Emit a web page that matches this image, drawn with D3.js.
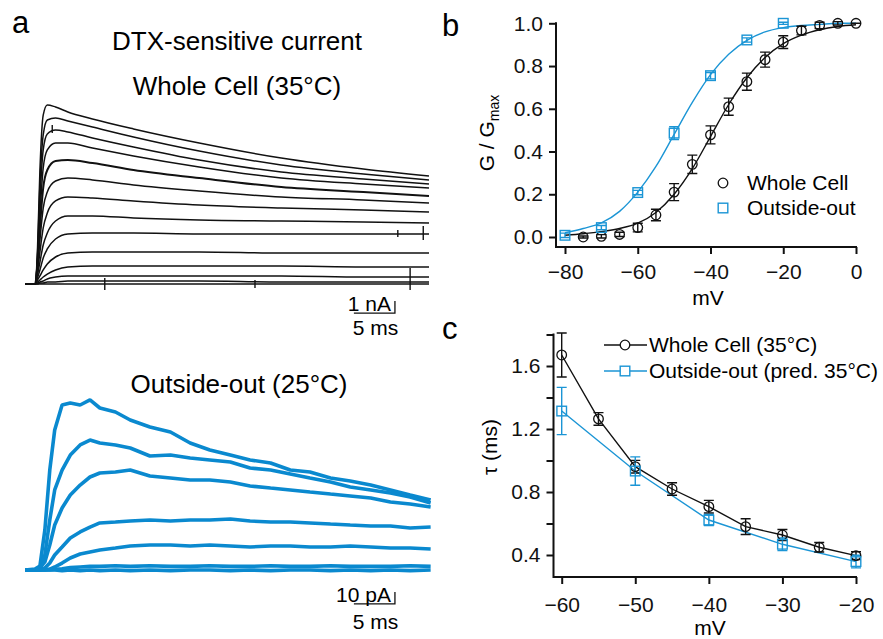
<!DOCTYPE html>
<html>
<head>
<meta charset="utf-8">
<script src="https://cdn.jsdelivr.net/npm/d3@7"></script>
<style>
  body { margin: 0; background: #fff; }
  svg { font-family: "Liberation Sans", Arial, sans-serif; }
  .tick text { font-size: 21px; fill: #111; }
</style>
</head>
<body>
<svg id="fig" width="883" height="639"></svg>
<script>
// ---- panel a: whole cell traces (time in ms, current in nA) ----
const wcTime = [-1.2, 0, 0.3, 0.6, 1.0, 1.5, 2.5, 4, 7, 12, 20, 30, 40, 48];
const wcTraces = [
  [0, 0, 2.83, 9.5, 14.08, 14.92, 14.75, 14.33, 13.75, 12.92, 11.75, 10.5, 9.58, 9.0],
  [0, 0, 2.42, 8.25, 12.42, 13.67, 13.83, 13.58, 13.08, 12.25, 11.08, 9.92, 9.17, 8.67],
  [0, 0, 2.17, 7.0, 11.17, 12.5, 12.83, 12.67, 12.17, 11.42, 10.33, 9.33, 8.75, 8.33],
  [0, 0, 1.83, 5.75, 9.67, 11.17, 11.75, 11.75, 11.33, 10.67, 9.75, 8.83, 8.33, 8.0],
  [0, 0, 1.58, 4.67, 8.0, 9.5, 10.25, 10.33, 10.08, 9.5, 8.83, 8.08, 7.67, 7.33],
  [0, 0, 1.33, 3.67, 6.33, 7.67, 8.58, 8.83, 8.67, 8.25, 7.75, 7.25, 7.0, 6.75],
  [0, 0, 1.0, 2.67, 4.67, 5.92, 6.92, 7.25, 7.17, 6.92, 6.58, 6.33, 6.17, 6.0],
  [0, 0, 0.75, 1.83, 3.25, 4.25, 5.25, 5.67, 5.67, 5.5, 5.33, 5.25, 5.17, 5.08],
  [0, 0, 0.5, 1.17, 2.17, 2.92, 3.75, 4.17, 4.25, 4.25, 4.17, 4.17, 4.17, 4.17],
  [0, 0, 0.33, 0.67, 1.17, 1.67, 2.25, 2.58, 2.67, 2.67, 2.67, 2.58, 2.58, 2.58],
  [0, 0, 0.17, 0.33, 0.58, 0.83, 1.17, 1.42, 1.5, 1.5, 1.5, 1.5, 1.42, 1.42],
  [0, 0, 0.08, 0.17, 0.25, 0.42, 0.58, 0.67, 0.67, 0.67, 0.67, 0.67, 0.58, 0.58],
  [0, 0, 0, 0.08, 0.08, 0.17, 0.17, 0.25, 0.25, 0.25, 0.25, 0.17, 0.17, 0.17],
  [0, 0, 0, 0, 0, 0, 0, 0, 0, 0, 0, 0, 0, 0]
];
// small artefacts seen on the records: [time, from nA, to nA]
const wcArtefacts = [[8.5, 0.5, -0.5], [26.8, 0.33, -0.33], [45.7, 1.33, -0.5], [44.2, 4.5, 3.92], [47.3, 4.83, 3.67], [2.1, 13.25, 12.58]];

// ---- panel a: outside-out traces (time in ms, current in pA) ----
const ooTime = [-1.2, 0, 0.6, 1.2, 1.8, 2.4, 3.3, 4.3, 5.5, 6.7, 7.9, 9.8, 11.6, 14, 16.5, 18.9, 21.3, 23.8, 26.2, 28.7, 31.1, 33.5, 36, 38.4, 40.9, 43.3, 45.7, 48.2];
const ooTraces = [
  [0, 0.8, 3.3, 33.3, 83.3, 116.7, 137.5, 139.2, 137.5, 141.7, 135, 131.7, 125, 119.2, 115, 105.8, 100, 95.8, 91.7, 89.2, 83.3, 81.7, 76.7, 74.2, 70.8, 66.7, 62.5, 58.3],
  [0, 0, 2.5, 12.5, 41.7, 66.7, 83.3, 95.8, 104.2, 108.3, 105.8, 104.2, 101.7, 95, 95.8, 93.3, 91.7, 90, 85, 83.3, 80, 76.7, 73.3, 69.2, 66.7, 64.2, 60.8, 55.8],
  [0, 0, 1.7, 6.7, 20.8, 37.5, 51.7, 62.5, 70.8, 77.5, 80.8, 81.7, 83.3, 78.3, 76.7, 75, 75, 73.3, 70, 68.3, 66.7, 65, 63.3, 61.7, 60, 56.7, 55, 52.5],
  [0, 0, 0, 1.7, 5.8, 12.5, 19.2, 26.7, 31.7, 35.8, 39.2, 40, 40.8, 41.7, 40.8, 41.7, 41.7, 42.5, 40.8, 40, 40, 39.2, 38.3, 37.5, 36.7, 36.7, 35, 35.8],
  [0, 0, 0, 0, 0.8, 2.5, 5.8, 10, 13.3, 15, 16.7, 18.3, 20, 20.8, 20.8, 20, 20.8, 20, 19.2, 20, 20, 19.2, 19.2, 20, 19.2, 18.3, 18.3, 17.5],
  [0, 0, 0, 0, 0, 0.5, 1, 2, 2.5, 3, 3, 3.5, 3, 3.5, 3, 3, 3.5, 3, 3, 3.5, 3, 3, 3.5, 3, 3, 3, 3.5, 3],
  [0, 0, 0, 0, 0, 0, -0.5, 0, -0.5, 0, -0.5, 0, -0.5, 0, -0.5, 0, 0, -0.5, 0, -0.5, 0, 0, -0.5, 0, -0.5, 0, -0.5, 0]
];

// ---- panel b: G/Gmax vs voltage ----
const bWcV = [-75, -70, -65, -60, -55, -50, -45, -40, -35, -30, -25, -20, -15, -10, -5, 0];
const bWcG = [0.0, 0.003, 0.012, 0.044, 0.103, 0.21, 0.34, 0.478, 0.61, 0.727, 0.83, 0.912, 0.966, 0.99, 1.0, 1.0];
const bWcErr = [0.005, 0.008, 0.01, 0.02, 0.027, 0.04, 0.043, 0.042, 0.04, 0.04, 0.035, 0.03, 0.02, 0.015, 0.008, 0];
const bOoV = [-80, -70, -60, -50, -40, -30, -20];
const bOoG = [0.008, 0.044, 0.208, 0.486, 0.755, 0.922, 1.0];
const bOoErr = [0.01, 0.01, 0.01, 0.03, 0.015, 0.01, 0.005];
const bFitV = [-80, -75, -70, -65, -60, -55, -50, -45, -40, -35, -30, -25, -20, -15, -10, -5, 0];
const bWcFit = [0.008, 0.015, 0.025, 0.04, 0.065, 0.115, 0.2, 0.32, 0.47, 0.62, 0.745, 0.84, 0.905, 0.945, 0.97, 0.985, 0.993];
const bOoFit = [0.02, 0.04, 0.066, 0.12, 0.21, 0.33, 0.48, 0.63, 0.76, 0.855, 0.92, 0.96, 0.98, 0.99, 0.995, 1.0, 1.0];
const bXTicks = [-80, -60, -40, -20, 0];
const bYTicks = [0, 0.2, 0.4, 0.6, 0.8, 1.0];

// ---- panel c: tau vs voltage ----
const cWcV = [-60, -55, -50, -45, -40, -35, -30, -25, -20];
const cWcTau = [1.67, 1.264, 0.961, 0.819, 0.707, 0.58, 0.527, 0.449, 0.396];
const cWcErr = [0.14, 0.04, 0.04, 0.04, 0.04, 0.05, 0.035, 0.03, 0.025];
const cOoV = [-60, -50, -40, -30, -20];
const cOoTau = [1.314, 0.933, 0.622, 0.468, 0.358];
const cOoErr = [0.15, 0.09, 0.035, 0.04, 0.04];
const cXTicks = [-60, -50, -40, -30, -20];
const cYTicks = [0.4, 0.6, 0.8, 1.0, 1.2, 1.4, 1.6, 1.8];
const cYLabels = [0.4, 0.8, 1.2, 1.6];

const black = '#111';
const blue = '#1b95d5';
const traceBlue = '#0a89cf';

const svg = d3.select('#fig');

// panel letters and titles
svg.append('text').attr('x', 12).attr('y', 33).attr('font-size', 31).text('a');
svg.append('text').attr('x', 442).attr('y', 36).attr('font-size', 31).text('b');
svg.append('text').attr('x', 442).attr('y', 339).attr('font-size', 31).text('c');

const titles = [
  { t: 'DTX-sensitive current', x: 237, y: 50 },
  { t: 'Whole Cell (35°C)', x: 237, y: 95 },
  { t: 'Outside-out (25°C)', x: 239, y: 393 }
];
svg.selectAll('.title').data(titles).enter().append('text')
  .attr('class', 'title')
  .attr('x', d => d.x).attr('y', d => d.y)
  .attr('text-anchor', 'middle')
  .attr('font-size', 26)
  .text(d => d.t);

// ---------- panel a traces ----------
const tScale = d3.scaleLinear().domain([0, 48]).range([35, 429]);
const nAScale = d3.scaleLinear().domain([0, 15]).range([284, 104]);
const pAScale = d3.scaleLinear().domain([0, 140]).range([570, 402]);

const wcLine = d3.line()
  .x((d, i) => tScale(wcTime[i]))
  .y(d => nAScale(d))
  .curve(d3.curveMonotoneX);

svg.append('g').selectAll('path')
  .data(wcTraces)
  .enter().append('path')
  .attr('d', wcLine)
  .attr('fill', 'none')
  .attr('stroke', black)
  .attr('stroke-width', (d, i) => i === 4 ? 2 : 1.5);

svg.append('g').selectAll('line')
  .data(wcArtefacts)
  .enter().append('line')
  .attr('x1', d => tScale(d[0])).attr('x2', d => tScale(d[0]))
  .attr('y1', d => nAScale(d[1])).attr('y2', d => nAScale(d[2]))
  .attr('stroke', black).attr('stroke-width', 1.4);

const ooLine = d3.line()
  .x((d, i) => tScale(ooTime[i]))
  .y(d => pAScale(d));

svg.append('g').selectAll('path')
  .data(ooTraces)
  .enter().append('path')
  .attr('d', ooLine)
  .attr('fill', 'none')
  .attr('stroke', traceBlue)
  .attr('stroke-width', 3.6)
  .attr('stroke-linejoin', 'bevel');

// scale bars: 5 ms horizontal, amplitude vertical
function scaleBar(yScale, tEnd, yBase, amp, ampText, yText, yText2) {
  const g = svg.append('g');
  const x0 = tScale(tEnd - 5), x1 = tScale(tEnd);
  g.append('path')
    .attr('d', `M${x0},${yScale(yBase)}H${x1}V${yScale(yBase + amp)}`)
    .attr('fill', 'none').attr('stroke', black).attr('stroke-width', 1.3);
  g.append('text').attr('x', x1 - 4).attr('y', yText)
    .attr('text-anchor', 'end').attr('font-size', 21).text(ampText);
  g.append('text').attr('x', (x0 + x1) / 2 + 1).attr('y', yText2)
    .attr('text-anchor', 'middle').attr('font-size', 21).text('5 ms');
}
scaleBar(nAScale, 43.85, -2.42, 1, '1 nA', 311, 335);
scaleBar(pAScale, 43.85, -28.3, 10, '10 pA', 602, 629);

// ---------- panel b ----------
const bx = d3.scaleLinear().domain([-80, 0]).range([565, 856]);
const by = d3.scaleLinear().domain([0, 1]).range([237, 23.3]);

const bAxX = svg.append('g').attr('transform', 'translate(0,247)')
  .call(d3.axisBottom(bx).tickValues(bXTicks).tickSize(7).tickPadding(10).tickFormat(d3.format('d')));
const bAxY = svg.append('g').attr('transform', 'translate(556,0)')
  .call(d3.axisLeft(by).tickValues(bYTicks).tickSize(7).tickPadding(6).tickFormat(d3.format('.1f')));
[bAxX, bAxY].forEach(a => {
  a.select('.domain').remove();
  a.selectAll('line').attr('stroke', black).attr('stroke-width', 2);
});
svg.append('path').attr('d', `M556,${by(1) - 1}V247H857`)
  .attr('fill', 'none').attr('stroke', black).attr('stroke-width', 2);

svg.append('text').attr('x', 708).attr('y', 305).attr('text-anchor', 'middle')
  .attr('font-size', 21).text('mV');
const gLab = svg.append('text').attr('transform', 'translate(494,133) rotate(-90)')
  .attr('text-anchor', 'middle').attr('font-size', 21);
gLab.append('tspan').text('G / G');
gLab.append('tspan').attr('font-size', 14).attr('dy', 5).text('max');

const fitLine = ys => d3.line().x((d, i) => bx(bFitV[i])).y(d => by(d)).curve(d3.curveMonotoneX)(ys);
svg.append('path').attr('d', fitLine(bOoFit)).attr('fill', 'none').attr('stroke', blue).attr('stroke-width', 1.4);
svg.append('path').attr('d', fitLine(bWcFit)).attr('fill', 'none').attr('stroke', black).attr('stroke-width', 1.4);

function errBars(g, xs, ys, es, xS, yS, color, cap) {
  g.selectAll(null).data(xs).enter().append('path')
    .attr('d', (d, i) => {
      const x = xS(d), y0 = yS(ys[i] - es[i]), y1 = yS(ys[i] + es[i]);
      return `M${x - cap},${y0}H${x + cap}M${x},${y0}V${y1}M${x - cap},${y1}H${x + cap}`;
    })
    .attr('fill', 'none').attr('stroke', color).attr('stroke-width', 1.4);
}
function circles(g, xs, ys, xS, yS) {
  g.selectAll(null).data(xs).enter().append('circle')
    .attr('cx', d => xS(d)).attr('cy', (d, i) => yS(ys[i])).attr('r', 4.8)
    .attr('fill', 'none').attr('stroke', black).attr('stroke-width', 1.3);
}
function squares(g, xs, ys, xS, yS) {
  g.selectAll(null).data(xs).enter().append('rect')
    .attr('x', d => xS(d) - 4.8).attr('y', (d, i) => yS(ys[i]) - 4.8)
    .attr('width', 9.6).attr('height', 9.6)
    .attr('fill', 'none').attr('stroke', blue).attr('stroke-width', 1.4);
}

const bMarks = svg.append('g');
errBars(bMarks, bWcV, bWcG, bWcErr, bx, by, black, 5);
errBars(bMarks, bOoV, bOoG, bOoErr, bx, by, blue, 5);
circles(bMarks, bWcV, bWcG, bx, by);
squares(bMarks, bOoV, bOoG, bx, by);

// legend b
svg.append('circle').attr('cx', 723).attr('cy', 183).attr('r', 4.8)
  .attr('fill', 'none').attr('stroke', black).attr('stroke-width', 1.3);
svg.append('rect').attr('x', 718.2).attr('y', 203.2).attr('width', 9.6).attr('height', 9.6)
  .attr('fill', 'none').attr('stroke', blue).attr('stroke-width', 1.4);
svg.append('text').attr('x', 747).attr('y', 190).attr('font-size', 21).text('Whole Cell');
svg.append('text').attr('x', 747).attr('y', 215).attr('font-size', 21).text('Outside-out');

// ---------- panel c ----------
const cx = d3.scaleLinear().domain([-60, -20]).range([561.7, 856]);
const cy = d3.scaleLinear().domain([0.4, 1.6]).range([555, 366]);

const cAxX = svg.append('g').attr('transform', 'translate(0,577)')
  .call(d3.axisBottom(cx).tickValues(cXTicks).tickSize(7).tickPadding(13).tickFormat(d3.format('d')));
const cAxY = svg.append('g').attr('transform', 'translate(553.5,0)')
  .call(d3.axisLeft(cy).tickValues(cYTicks).tickSize(7).tickPadding(6)
    .tickFormat(d => cYLabels.some(v => Math.abs(v - d) < 1e-9) ? d3.format('.1f')(d) : ''));
[cAxX, cAxY].forEach(a => {
  a.select('.domain').remove();
  a.selectAll('line').attr('stroke', black).attr('stroke-width', 2);
});
svg.append('path').attr('d', `M553.5,${cy(1.8) - 1}V577H857`)
  .attr('fill', 'none').attr('stroke', black).attr('stroke-width', 2);

svg.append('text').attr('x', 710).attr('y', 635).attr('text-anchor', 'middle')
  .attr('font-size', 21).text('mV');
svg.append('text').attr('transform', 'translate(497,447) rotate(-90)')
  .attr('text-anchor', 'middle').attr('font-size', 21).text('τ (ms)');

const cLine = (xs, ys) => d3.line().x((d, i) => cx(d)).y((d, i) => cy(ys[i]))(xs);
svg.append('path').attr('d', cLine(cOoV, cOoTau)).attr('fill', 'none').attr('stroke', blue).attr('stroke-width', 1.4);
svg.append('path').attr('d', cLine(cWcV, cWcTau)).attr('fill', 'none').attr('stroke', black).attr('stroke-width', 1.4);

const cMarks = svg.append('g');
errBars(cMarks, cWcV, cWcTau, cWcErr, cx, cy, black, 5);
errBars(cMarks, cOoV, cOoTau, cOoErr, cx, cy, blue, 5);
circles(cMarks, cWcV, cWcTau, cx, cy);
squares(cMarks, cOoV, cOoTau, cx, cy);

// legend c
svg.append('line').attr('x1', 604).attr('x2', 647).attr('y1', 345).attr('y2', 345)
  .attr('stroke', black).attr('stroke-width', 1.4);
svg.append('circle').attr('cx', 625).attr('cy', 345).attr('r', 4.8)
  .attr('fill', '#fff').attr('stroke', black).attr('stroke-width', 1.3);
svg.append('line').attr('x1', 604).attr('x2', 647).attr('y1', 371).attr('y2', 371)
  .attr('stroke', blue).attr('stroke-width', 1.4);
svg.append('rect').attr('x', 620.2).attr('y', 366.2).attr('width', 9.6).attr('height', 9.6)
  .attr('fill', '#fff').attr('stroke', blue).attr('stroke-width', 1.4);
svg.append('text').attr('x', 649).attr('y', 352).attr('font-size', 21).text('Whole Cell (35°C)');
svg.append('text').attr('x', 649).attr('y', 378).attr('font-size', 21).text('Outside-out (pred. 35°C)');

svg.selectAll('.tick text').attr('fill', black);
</script>
</body>
</html>
